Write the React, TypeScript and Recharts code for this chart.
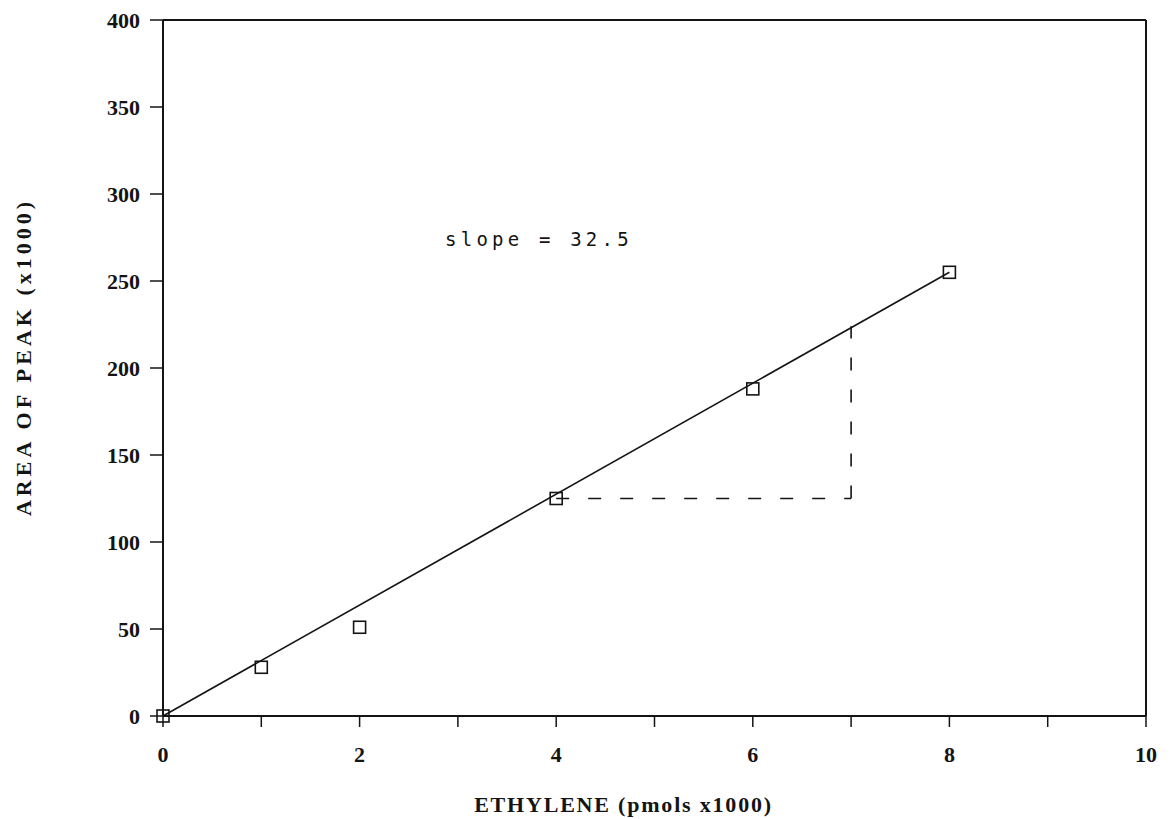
import React from "react"
import {
  ComposedChart, Scatter, XAxis, YAxis, ReferenceLine, ReferenceDot
} from "recharts"

// readings taken off the calibration plot
const ethylene = [0, 1, 2, 4, 6, 8]
const peakArea = [0, 28, 51, 125, 188, 255]

// fitted straight line, end points
const fitEthylene = [0, 8]
const fitArea = [0, 255]

const xTicks = [0, 1, 2, 3, 4, 5, 6, 7, 8, 9, 10]
const yTicks = [0, 50, 100, 150, 200, 250, 300, 350, 400]

const slopeText = "slope = 32.5"
const slopeAt = { x: 2.87, y: 270 }

const ink = "#141414"
const serif = "'Liberation Serif', 'DejaVu Serif', serif"

const points = ethylene.map((x, i) => ({ x, y: peakArea[i] }))
const fit = fitEthylene.map((x, i) => ({ x, y: fitArea[i] }))

function OpenSquare(props: any) {
  const { cx, cy } = props
  if (cx == null || cy == null) return null
  return <rect x={cx - 6} y={cy - 6} width={12} height={12} fill="none" stroke={ink} strokeWidth={1.6} />
}

function NoDot() {
  return null
}

function XTitle(props: any) {
  const { x, y, width } = props.viewBox
  return (
    <text x={x + width / 2 - 31} y={y + 96} textAnchor="middle" fill={ink}
      style={{ fontFamily: serif, fontSize: 22, fontWeight: "bold", letterSpacing: 1.8 }}>
      ETHYLENE (pmols x1000)
    </text>
  )
}

function YTitle(props: any) {
  const { x, y, height } = props.viewBox
  const cx = x + 23
  const cy = y + height / 2 - 11
  return (
    <text x={cx} y={cy} transform={`rotate(-90 ${cx} ${cy})`} textAnchor="middle"
      dominantBaseline="central" fill={ink}
      style={{ fontFamily: serif, fontSize: 22, fontWeight: "bold", letterSpacing: 4 }}>
      AREA OF PEAK (x1000)
    </text>
  )
}

function SlopeNote(props: any) {
  const { x, y } = props.viewBox
  return (
    <text x={x} y={y} fill={ink}
      style={{ fontFamily: "'DejaVu Sans Mono', monospace", fontSize: 19, letterSpacing: 4.2 }}>
      {slopeText}
    </text>
  )
}

export default function App() {
  const tickStyle = { fontFamily: serif, fontSize: 22, fontWeight: "bold", fill: ink }
  return (
    <div style={{ position: "absolute", left: 0, top: 0, background: "#fff" }}>
      <ComposedChart width={1174} height={819} margin={{ top: 20, right: 28, left: 0, bottom: 0 }}>
        <XAxis
          dataKey="x" type="number" domain={[0, 10]} ticks={xTicks} interval={0}
          tickFormatter={(v: number) => (v % 2 === 0 ? String(v) : "")}
          tickSize={11} tickMargin={19} height={103}
          axisLine={{ stroke: ink, strokeWidth: 2 }} tickLine={{ stroke: ink, strokeWidth: 1.5 }}
          tick={tickStyle} label={<XTitle />}
        />
        <YAxis
          dataKey="y" type="number" domain={[0, 400]} ticks={yTicks} interval={0}
          tickSize={13} tickMargin={10} width={163}
          axisLine={{ stroke: ink, strokeWidth: 2 }} tickLine={{ stroke: ink, strokeWidth: 1.5 }}
          tick={tickStyle} label={<YTitle />}
        />
        <ReferenceLine y={400} stroke={ink} strokeWidth={2} />
        <ReferenceLine x={10} stroke={ink} strokeWidth={2} />
        <ReferenceLine segment={[{ x: 4, y: 125 }, { x: 7, y: 125 }]} stroke={ink} strokeWidth={1.6} strokeDasharray="13 19" />
        <ReferenceLine segment={[{ x: 7, y: 125 }, { x: 7, y: 224 }]} stroke={ink} strokeWidth={1.6} strokeDasharray="13 19" />
        <Scatter data={fit} line={{ stroke: ink, strokeWidth: 1.6 }} shape={<NoDot />} isAnimationActive={false} />
        <Scatter data={points} shape={<OpenSquare />} isAnimationActive={false} />
        <ReferenceDot x={slopeAt.x} y={slopeAt.y} r={0} stroke="none" fill="none" label={<SlopeNote />} />
      </ComposedChart>
    </div>
  )
}
